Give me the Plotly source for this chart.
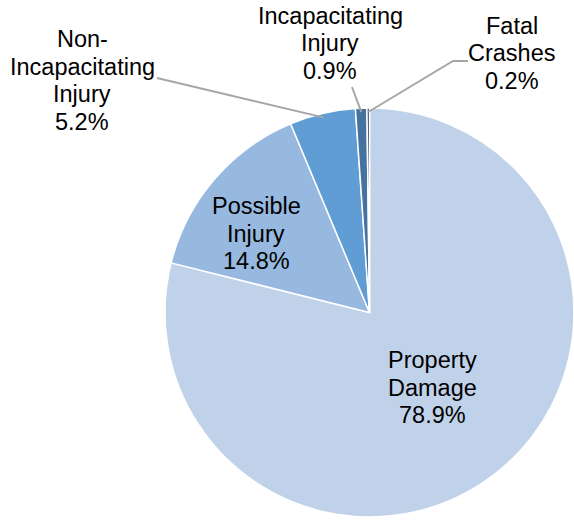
import plotly.graph_objects as go
import numpy as np

W, H = 574, 521
OFF = 0  # body margin is removed below, so the plot sits at the page corner

categories = ["Property Damage", "Possible Injury", "Non-Incapacitating Injury",
              "Incapacitating Injury", "Fatal Crashes"]
values = [78.9, 14.8, 5.2, 0.9, 0.2]
label_lines = [["Property", "Damage"], ["Possible", "Injury"],
               ["Non-", "Incapacitating", "Injury"],
               ["Incapacitating", "Injury"], ["Fatal", "Crashes"]]
colors = ["#C0D2EA", "#97B9DF", "#5F9DD4", "#46729F", "#1F3352"]


def px(x, y):
    # screen pixel -> paper coords
    return (x - OFF) / W, 1 - (y - OFF) / H


# pie placement (screen pixels)
left, right, top, bottom = 165, 574, 106, 519
dom_x = [(left - OFF) / W, min(1.0, (right - OFF) / W)]
dom_y = [1 - (bottom - OFF) / H, 1 - (top - OFF) / H]

# label anchors: centre x, first line centre y (screen pixels)
label_pos = [(432, 360), (256, 206), (82, 39), (330, 16), (512, 26)]
line_gap = 27.5
leader = {2: [(157, 78)], 3: [(352, 87)], 4: [(468, 61), (453, 61)]}

fig = go.Figure(go.Pie(
    labels=categories,
    values=values,
    sort=False,
    direction="clockwise",
    rotation=0,
    marker=dict(colors=colors, line=dict(color="white", width=1.5)),
    textinfo="none",
    hoverinfo="label+percent",
    domain=dict(x=dom_x, y=dom_y),
    showlegend=False,
))

# actual pie geometry as plotly lays it out inside the domain
dw = (dom_x[1] - dom_x[0]) * W
dh = (dom_y[1] - dom_y[0]) * H
r = min(dw, dh) / 2
cx = OFF + (dom_x[0] + dom_x[1]) / 2 * W
cy = OFF + (1 - (dom_y[0] + dom_y[1]) / 2) * H

total = sum(values)
cum = np.cumsum([0] + values)
shapes = []
annotations = []
for i, name in enumerate(categories):
    pct = values[i] / total * 100
    lines = label_lines[i] + [f"{pct:.1f}%"]
    lx, ly = label_pos[i]
    for k, t in enumerate(lines):
        ax, ay = px(lx, ly + k * line_gap)
        annotations.append(dict(
            x=ax, y=ay, xref="paper", yref="paper",
            text=t, showarrow=False, align="center",
            xanchor="center", yanchor="middle",
            font=dict(family="Liberation Sans, Arial", size=23.5, color="#000000"),
        ))
    if i in leader:
        mid = np.radians((cum[i] + cum[i + 1]) / 2 / total * 360)
        ex = cx + (r - 4) * np.sin(mid)
        ey = cy - (r - 4) * np.cos(mid)
        pts = leader[i] + [(ex, ey)]
        path = "M " + " L ".join("{},{}".format(*px(x, y)) for x, y in pts)
        shapes.append(dict(type="path", path=path, xref="paper", yref="paper",
                           line=dict(color="#A6A6A6", width=2)))

fig.update_layout(
    width=W, height=H,
    margin=dict(l=0, r=0, t=0, b=0),
    paper_bgcolor="white",
    plot_bgcolor="white",
    shapes=shapes,
    annotations=annotations,
)

fig.write_html("out.html", config={"displayModeBar": False},
               post_script="document.body.style.margin='0';")
